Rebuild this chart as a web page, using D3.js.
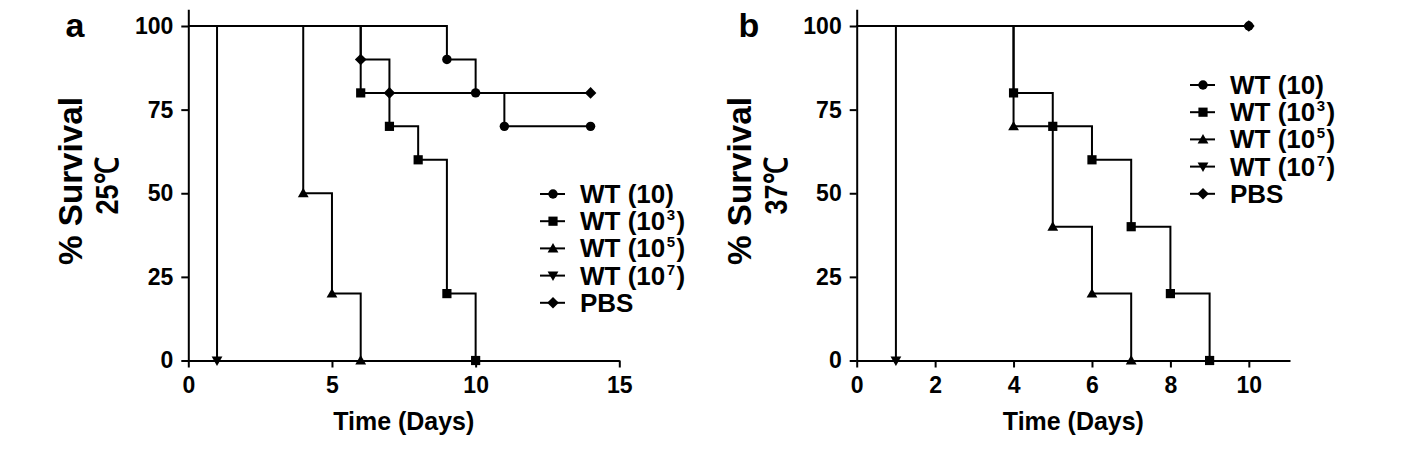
<!DOCTYPE html>
<html><head><meta charset="utf-8">
<script src="https://cdn.jsdelivr.net/npm/d3@7"></script>
<style>
html,body{margin:0;padding:0;background:#fff;}
svg text{font-family:"Liberation Sans",Arial,sans-serif;font-weight:bold;fill:#000;}
</style></head>
<body>
<svg id="chart" width="1423" height="456"></svg>
<script>
// ---------- data ----------
const seriesKeys = ["wt10", "wt1e3", "wt1e5", "wt1e7", "pbs"];
const legendMain = ["WT (10", "WT (10", "WT (10", "WT (10", "PBS"];
const legendSup  = ["", "3", "5", "7", ""];
const legendTail = [")", ")", ")", ")", ""];
const markerTypes = ["circle", "square", "triangle", "triangleDown", "diamond"];

const yTicks = [0, 25, 50, 75, 100];
const xTicksA = [0, 5, 10, 15];
const xTicksB = [0, 2, 4, 6, 8, 10];

// Panel a (25 °C)
const aWt10Days  = [0, 9, 10, 11, 14];
const aWt10Surv  = [100, 90, 80, 70, 70];
const aWt1e3Days = [0, 6, 7, 8, 9, 10];
const aWt1e3Surv = [100, 80, 70, 60, 20, 0];
const aWt1e5Days = [0, 4, 5, 6];
const aWt1e5Surv = [100, 50, 20, 0];
const aWt1e7Days = [0, 1];
const aWt1e7Surv = [100, 0];
const aPbsDays   = [0, 6, 7, 14];
const aPbsSurv   = [100, 90, 80, 80];

// Panel b (37 °C)
const bWt10Days  = [0, 10];
const bWt10Surv  = [100, 100];
const bWt1e3Days = [0, 4, 5, 6, 7, 8, 9];
const bWt1e3Surv = [100, 80, 70, 60, 40, 20, 0];
const bWt1e5Days = [0, 4, 5, 6, 7];
const bWt1e5Surv = [100, 70, 40, 20, 0];
const bWt1e7Days = [0, 1];
const bWt1e7Surv = [100, 0];
const bPbsDays   = [0, 10];
const bPbsSurv   = [100, 100];

const panelA = {
  label: "a", temp: "25℃", xMax: 15, xTicks: xTicksA,
  series: [[aWt10Days, aWt10Surv], [aWt1e3Days, aWt1e3Surv], [aWt1e5Days, aWt1e5Surv], [aWt1e7Days, aWt1e7Surv], [aPbsDays, aPbsSurv]]
};
const panelB = {
  label: "b", temp: "37℃", xMax: 11.05, xTicks: xTicksB,
  series: [[bWt10Days, bWt10Surv], [bWt1e3Days, bWt1e3Surv], [bWt1e5Days, bWt1e5Surv], [bWt1e7Days, bWt1e7Surv], [bPbsDays, bPbsSurv]]
};

// ---------- layout ----------
const layouts = [
  {panel: panelA, x0: 188.3, x1: 619.3, labelX: 75, legX: 553, legY: 194},
  {panel: panelB, x0: 856.7, x1: 1290, labelX: 749, legX: 1203, legY: 85}
];
const yZero = 360.5, yHundred = 26;
const svg = d3.select("#chart");

function markerPath(type) {
  switch (type) {
    case "circle": return d3.symbol(d3.symbolCircle, 70)();
    case "square": return "M-4.6,-4.6H4.6V4.6H-4.6Z";
    case "triangle": return "M0,-5.4L5.4,4L-5.4,4Z";
    case "triangleDown": return "M0,5.4L5.4,-4L-5.4,-4Z";
    case "diamond": return "M0,-5.8L5.8,0L0,5.8L-5.8,0Z";
  }
}

layouts.forEach(L => {
  const p = L.panel;
  const x = d3.scaleLinear().domain([0, p.xMax]).range([L.x0, L.x1]);
  const yTop = yZero - (yZero - yHundred) * 1.05;
  const y = d3.scaleLinear().domain([0, 105]).range([yZero, yTop]);
  const g = svg.append("g");

  // axes
  const xAxis = d3.axisBottom(x).tickValues(p.xTicks).tickSize(7).tickSizeOuter(0).tickPadding(9);
  const yAxis = d3.axisLeft(y).tickValues(yTicks).tickSize(7).tickSizeOuter(0).tickPadding(8);
  const gx = g.append("g").attr("transform", `translate(0,${yZero})`).call(xAxis);
  const gy = g.append("g").attr("transform", `translate(${L.x0},0)`).call(yAxis);
  [gx, gy].forEach(a => {
    a.select(".domain").attr("stroke", "#000").attr("stroke-width", 2);
    a.selectAll(".tick line").attr("stroke", "#000").attr("stroke-width", 2);
    a.selectAll(".tick text").attr("font-size", 23).attr("font-family", "Liberation Sans, Arial, sans-serif").attr("font-weight", "bold").attr("fill", "#000");
  });

  // survival step lines
  const line = d3.line().x(d => x(d[0])).y(d => y(d[1])).curve(d3.curveStepAfter);
  p.series.forEach((s, i) => {
    const pts = s[0].map((t, j) => [t, s[1][j]]);
    g.append("path").attr("d", line(pts)).attr("fill", "none").attr("stroke", "#000").attr("stroke-width", 2);
  });
  p.series.forEach((s, i) => {
    const pts = s[0].map((t, j) => [t, s[1][j]]).slice(1);
    g.selectAll(null).data(pts).enter().append("path")
      .attr("d", markerPath(markerTypes[i]))
      .attr("transform", d => `translate(${x(d[0])},${y(d[1])})`)
      .attr("fill", "#000");
  });

  // titles
  const xc = (L.x0 + L.x1) / 2;
  g.append("text").attr("x", xc).attr("y", 430).attr("text-anchor", "middle")
    .attr("font-size", 25).attr("textLength", 141).attr("lengthAdjust", "spacingAndGlyphs").text("Time (Days)");
  g.append("text").attr("transform", `translate(${L.x0 - 106},181) rotate(-90)`).attr("text-anchor", "middle")
    .attr("font-size", 34).attr("textLength", 168).attr("lengthAdjust", "spacingAndGlyphs").text("% Survival");
  g.append("text").attr("transform", `translate(${L.x0 - 70},186) rotate(-90)`).attr("text-anchor", "middle")
    .attr("font-size", 32).attr("textLength", 57).attr("lengthAdjust", "spacingAndGlyphs").text(p.temp);
  g.append("text").attr("x", L.labelX).attr("y", 37).attr("text-anchor", "middle")
    .attr("font-size", 34).text(p.label);

  // legend
  seriesKeys.forEach((k, i) => {
    const cy = L.legY + i * 27.2;
    g.append("line").attr("x1", L.legX - 13).attr("x2", L.legX + 12).attr("y1", cy).attr("y2", cy)
      .attr("stroke", "#000").attr("stroke-width", 2);
    g.append("path").attr("d", markerPath(markerTypes[i])).attr("transform", `translate(${L.legX},${cy})`).attr("fill", "#000");
    const t = g.append("text").attr("x", L.legX + 27).attr("y", cy + 9).attr("font-size", 26);
    t.append("tspan").text(legendMain[i]);
    if (legendSup[i]) {
      t.append("tspan").attr("dy", -10).attr("dx", 1.5).attr("font-size", 15).text(legendSup[i]);
      t.append("tspan").attr("dy", 10).attr("dx", 1.5).text(legendTail[i]);
    } else if (legendTail[i]) {
      t.append("tspan").text(legendTail[i]);
    }
  });
});
</script>
</body></html>
